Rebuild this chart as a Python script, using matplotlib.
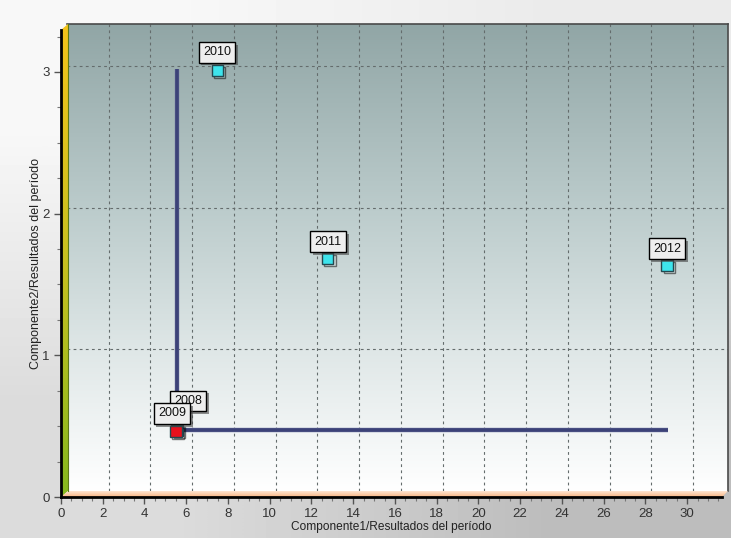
import numpy as np
import matplotlib
matplotlib.use("Agg")
import matplotlib.pyplot as plt
import matplotlib.patheffects as pe
from matplotlib.colors import LinearSegmentedColormap
from matplotlib.patches import Polygon
from matplotlib.ticker import MultipleLocator

plt.rcParams['font.family'] = ['Liberation Sans', 'DejaVu Sans']

years = ['2008', '2009', '2010', '2011', '2012']
comp1 = [5.27, 5.22, 7.19, 12.5, 28.75]
comp2 = [0.43, 0.42, 2.97, 1.64, 1.59]
point_colors = ['#e8101c', '#e8101c', '#3ee4ec', '#3ee4ec', '#3ee4ec']
label_offsets = [(11, 29), (-4, 18), (0, 18), (0, 17), (0, 17)]

line_x = [5.27, 5.27, 28.8]
line_y = [2.98, 0.43, 0.43]

x_max = 31.67
y_max = 3.296

W, H = 731, 538
fig = plt.figure(figsize=(W / 100, H / 100), dpi=100)


def rect(left, top, right, bottom):
    return [left / W, 1 - bottom / H, (right - left) / W, (bottom - top) / H]


# figure background gradient
bg = fig.add_axes([0, 0, 1, 1], zorder=0)
bg.imshow(np.array([[0.97, 0.92], [0.86, 0.74]]), cmap='gray', vmin=0, vmax=1,
          interpolation='bilinear', extent=[0, 1, 0, 1], aspect='auto', origin='upper')
bg.set_axis_off()

# back wall
back = fig.add_axes(rect(67, 24, 728, 491), zorder=1)
wall_cmap = LinearSegmentedColormap.from_list(
    'wall', [(0, '#91a6a6'), (0.4, '#bccccc'), (0.7, '#dfe7e7'), (1, '#ffffff')])
back.imshow(np.linspace(0, 1, 256).reshape(-1, 1), cmap=wall_cmap, aspect='auto',
            extent=[0, 1, 0, 1], transform=back.transAxes, origin='upper', zorder=0)
back.set_xlim(0, x_max)
back.set_ylim(0, y_max)
for gx in range(2, 32, 2):
    back.axvline(gx, color='#646c6c', lw=0.8, ls=(0, (2.5, 3)), zorder=1)
for gy in [1, 2, 3]:
    back.axhline(gy, color='#646c6c', lw=0.8, ls=(0, (2.5, 3)), zorder=1)
for s in ['left', 'bottom']:
    back.spines[s].set_visible(False)
for s in ['top', 'right']:
    back.spines[s].set_color('#4a4a4a')
    back.spines[s].set_linewidth(1.2)
back.set_xticks([])
back.set_yticks([])

back.plot(line_x, line_y, color='#3c4278', lw=2.6, solid_capstyle='butt', zorder=3,
          path_effects=[pe.Stroke(linewidth=3.2, foreground='#7a80a8'), pe.Normal()])

for i in range(len(years)):
    back.plot(comp1[i], comp2[i], marker='s', ms=8, mfc=point_colors[i], mec='#244850',
              mew=1, zorder=4, ls='none',
              path_effects=[pe.SimpleLineShadow(offset=(1.5, -1.5), alpha=0.5), pe.Normal()])
for i in range(len(years)):
    ann = back.annotate(years[i], (comp1[i], comp2[i]), xytext=label_offsets[i],
                        textcoords='offset pixels', ha='center', va='center', fontsize=9,
                        color='#111111', zorder=5,
                        bbox=dict(boxstyle='square,pad=0.35', fc='#eeeeee', ec='black', lw=1))
    ann.get_bbox_patch().set_path_effects(
        [pe.SimplePatchShadow(offset=(2, -2), alpha=0.6), pe.Normal()])

# side walls
over = fig.add_axes([0, 0, 1, 1], zorder=2)
over.set_xlim(0, W)
over.set_ylim(H, 0)
over.set_axis_off()
over.patch.set_alpha(0)

left_wall = Polygon([(61, 497), (61, 30), (68, 24), (68, 491)], closed=True, fc='none', ec='none')
over.add_patch(left_wall)
side_cmap = LinearSegmentedColormap.from_list('side', ['#f4c41a', '#c8c020', '#86b81e'])
im = over.imshow(np.linspace(0, 1, 256).reshape(-1, 1), cmap=side_cmap, aspect='auto',
                 extent=[61, 68, 497, 24], origin='upper')
im.set_clip_path(left_wall)
over.plot([68, 68], [24, 491], color='#5a7a18', lw=0.8)

floor = Polygon([(61, 497), (68, 491), (728, 491), (722, 497)], closed=True, fc='none', ec='none')
over.add_patch(floor)
floor_cmap = LinearSegmentedColormap.from_list('floor', ['#ffe6d2', '#f8b482'])
im2 = over.imshow(np.linspace(0, 1, 64).reshape(-1, 1), cmap=floor_cmap, aspect='auto',
                  extent=[61, 728, 497, 491], origin='upper')
im2.set_clip_path(floor)

# front axes with ticks
front = fig.add_axes(rect(61, 30, 722, 497), zorder=3)
front.patch.set_alpha(0)
front.set_xlim(0, x_max)
front.set_ylim(0, y_max)
front.spines['top'].set_visible(False)
front.spines['right'].set_visible(False)
for s in ['left', 'bottom']:
    front.spines[s].set_color('black')
    front.spines[s].set_linewidth(2)
front.xaxis.set_major_locator(MultipleLocator(2))
front.xaxis.set_minor_locator(MultipleLocator(0.5))
front.yaxis.set_major_locator(MultipleLocator(1))
front.yaxis.set_minor_locator(MultipleLocator(0.25))
front.tick_params(which='major', length=5, width=1, color='#555555', labelsize=9.5,
                  labelcolor='#333333', pad=3)
front.tick_params(which='minor', length=3, width=0.8, color='#777777')
front.set_xlabel('Componente1/Resultados del período', fontsize=8.6, color='#222222')
front.set_ylabel('Componente2/Resultados del período', fontsize=9, color='#222222')
front.xaxis.set_label_coords(330 / 661, -24 / 467)
front.yaxis.set_label_coords(-19 / 661, 0.5)

fig.savefig('out.png', dpi=100)
